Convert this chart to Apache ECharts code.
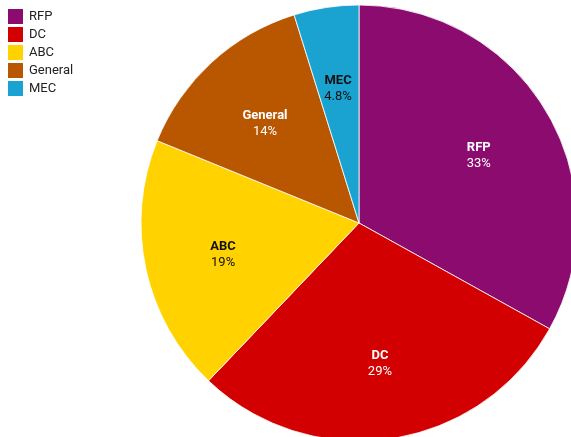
<!DOCTYPE html>
<html>
<head>
<meta charset="utf-8">
<script src="https://cdn.jsdelivr.net/npm/echarts@6/dist/echarts.min.js"></script>
<style>
  html, body { margin: 0; padding: 0; background: #fff; }
  #chart { width: 571px; height: 437px; }
</style>
</head>
<body>
<div id="chart"></div>
<script>
// Share of items by category (percent)
const categories = ['RFP', 'DC', 'ABC', 'General', 'MEC'];
const shares = [33, 29, 19, 14, 4.8];
const sliceColors = ['#8B0C6E', '#D20000', '#FFD200', '#B85700', '#1AA3D1'];
const labelColors = ['#ffffff', '#ffffff', '#111111', '#ffffff', '#111111'];

const pieData = categories.map((name, i) => ({
  name: name,
  value: shares[i],
  itemStyle: { color: sliceColors[i] }
}));

const labelData = categories.map((name, i) => ({
  name: name,
  value: shares[i],
  itemStyle: { color: 'rgba(0,0,0,0)', borderWidth: 0 },
  label: { color: labelColors[i] }
}));

const center = [359, 223];
const chart = echarts.init(document.getElementById('chart'), null, { renderer: 'canvas' });

chart.setOption({
  animation: false,
  legend: {
    orient: 'vertical',
    left: 8,
    top: 9,
    icon: 'rect',
    itemWidth: 15,
    itemHeight: 15,
    itemGap: 3,
    padding: 0,
    data: categories,
    itemStyle: { borderWidth: 0 },
    textStyle: { fontFamily: 'Roboto', fontSize: 13, color: '#222', padding: [0, 0, 0, 1] }
  },
  series: [
    {
      type: 'pie',
      center: center,
      radius: 218,
      startAngle: 90,
      clockwise: true,
      data: pieData,
      label: { show: false },
      labelLine: { show: false },
      itemStyle: { borderColor: '#ffffff', borderWidth: 0.8 },
      emphasis: { disabled: true }
    },
    {
      // transparent ring used only to place the slice labels further out
      type: 'pie',
      center: [center[0], center[1] + 3],
      radius: 272,
      startAngle: 90,
      clockwise: true,
      silent: true,
      legendHoverLink: false,
      data: labelData,
      labelLine: { show: false },
      label: {
        show: true,
        position: 'inside',
        fontFamily: 'Roboto',
        fontSize: 13,
        lineHeight: 16,
        formatter: p => '{n|' + p.name + '}\n' + p.value + '%',
        rich: {
          n: { fontFamily: 'Roboto', fontSize: 13, fontWeight: 'bold', lineHeight: 16 }
        }
      },
      emphasis: { disabled: true }
    }
  ]
});
</script>
</body>
</html>
